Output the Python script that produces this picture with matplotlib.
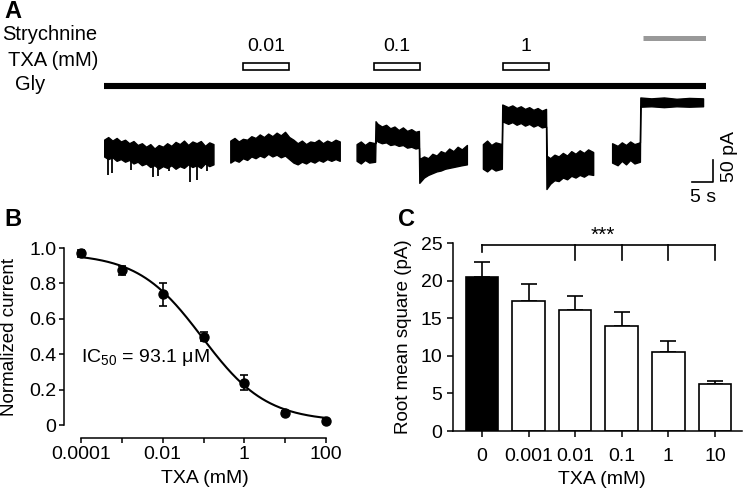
import numpy as np
import matplotlib
matplotlib.use("Agg")
import matplotlib.pyplot as plt
from matplotlib.patches import Rectangle

plt.rcParams['font.family'] = ['Liberation Sans', 'DejaVu Sans']
plt.rcParams['font.size'] = 13
plt.rcParams['axes.linewidth'] = 1.1
plt.rcParams['mathtext.fontset'] = 'custom'
plt.rcParams['mathtext.rm'] = 'Liberation Sans'
plt.rcParams['mathtext.it'] = 'Liberation Sans'

# ---- panel A: drug applications (s) ----
gly_on = [0, 143]
txa_labels = ['0.01', '0.1', '1']
txa_on = [33.0, 64.1, 94.8]
txa_off = [43.9, 75.1, 105.7]
stry_on = [128.0, 143.0]

# ---- panel A: trace envelopes (time s, upper / lower edge pA) ----
tr1_t = [0, 1, 2, 3, 4, 5, 6, 7, 8, 9, 10, 11, 12, 13, 14, 15, 16, 17, 18, 19,
         20, 21, 22, 23, 24, 25, 26]
tr1_top = [30, 36, 28, 34, 26, 30, 22, 27, 18, 22, 14, 20, 10, 18, 14, 22, 16, 25,
           20, 28, 18, 26, 22, 27, 16, 24, 20]
tr1_bot = [-8, -14, -10, -18, -14, -20, -16, -24, -20, -28, -24, -32, -28, -36, -30,
           -34, -28, -36, -30, -34, -26, -32, -28, -34, -24, -30, -26]
spike_t = [1.0, 1.9, 6.5, 11.7, 12.9, 15.5, 20.4, 22.1, 24.5]
spike_y = [-50, -45, -38, -55, -52, -40, -66, -62, -40]

tr2_t = [30, 31, 32, 33, 34, 35, 36, 37, 38, 39, 40, 41, 42, 43, 44, 45, 46, 47,
         48, 49, 50, 51, 52, 53, 54, 55, 56]
tr2_top = [28, 34, 26, 32, 30, 38, 34, 42, 36, 44, 38, 46, 40, 48, 36, 30, 22, 28,
           20, 26, 24, 30, 22, 28, 24, 30, 26]
tr2_bot = [-22, -16, -20, -12, -16, -8, -12, -6, -10, -2, -8, -4, -10, -6, -14, -22,
           -26, -20, -24, -18, -22, -16, -20, -14, -18, -14, -18]

tr3_t = [60, 61, 62, 63, 64.4, 64.5, 65, 66, 67, 68, 69, 70, 71, 72, 73, 74, 74.8,
         74.9, 76, 77, 78, 79, 80, 81, 82, 83, 84, 85, 86.2]
tr3_top = [20, 26, 18, 25, 22, 72, 66, 60, 64, 56, 60, 52, 58, 50, 54, 48, 50, -14,
           -8, -12, -2, -6, 4, 0, 10, 4, 14, 8, 18]
tr3_bot = [-18, -24, -16, -22, -20, 32, 26, 22, 24, 18, 20, 16, 18, 12, 14, 10, 12,
           -68, -56, -50, -46, -42, -40, -36, -34, -32, -30, -28, -26]

tr4_t = [90, 91, 92, 93, 94.5, 94.6, 96, 97, 98, 99, 100, 101, 102, 103, 104, 105,
         105.1, 106, 107, 108, 109, 110, 111, 112, 113, 114, 115, 116.2]
tr4_top = [20, 28, 18, 24, 20, 110, 104, 108, 102, 106, 100, 104, 98, 102, 96, 100,
           -6, -12, -4, -8, 0, -6, 4, -2, 6, 0, 8, 2]
tr4_bot = [-36, -42, -34, -40, -36, 72, 66, 70, 64, 68, 62, 66, 60, 64, 58, 60,
           -82, -70, -62, -64, -56, -60, -52, -56, -50, -54, -48, -50]

tr5_t = [120.7, 122, 123, 124, 125, 126, 127.3, 127.4, 130, 133, 136, 139, 142.3]
tr5_top = [22, 16, 24, 18, 26, 20, 24, 126, 124, 126, 123, 125, 124]
tr5_bot = [-22, -28, -18, -26, -16, -24, -20, 105, 106, 104, 106, 105, 106]

# ---- panel B: dose response ----
txa_b = [0.0001, 0.001, 0.01, 0.1, 1, 10, 100]
norm_cur = [0.97, 0.875, 0.74, 0.50, 0.24, 0.07, 0.025]
norm_err = [0.02, 0.025, 0.065, 0.025, 0.04, 0.01, 0.01]
ic50 = 0.0931   # mM
hill = 0.55
fit_top, fit_bot = 0.97, 0.02

# ---- panel C: RMS ----
c_labels = ['0', '0.001', '0.01', '0.1', '1', '10']
rms = [20.5, 17.3, 16.1, 14.0, 10.5, 6.2]
rms_err = [2.0, 2.2, 1.9, 1.8, 1.5, 0.5]

W, H = 745, 488
fig = plt.figure(figsize=(W / 100, H / 100), dpi=100)

def fpos(l, t, r, b):
    return [l / W, 1 - b / H, (r - l) / W, (b - t) / H]

# ================= A =================
axd = fig.add_axes(fpos(104, 25, 706, 95))
axd.set_xlim(0, 143)
axd.set_ylim(0, 1)
axd.axis('off')
axd.plot(gly_on, [0.129, 0.129], color='black', lw=4.4, solid_capstyle='butt')
axd.plot(stry_on, [0.814, 0.814], color='#999999', lw=3.6, solid_capstyle='butt')
for lab, a, b in zip(txa_labels, txa_on, txa_off):
    axd.add_patch(Rectangle((a, 0.357), b - a, 0.1, facecolor='white',
                            edgecolor='black', lw=1.2))
    axd.text((a + b) / 2, 0.686, lab, ha='center', va='center', fontsize=14)

fig.text(2 / W, 1 - 35 / H, 'Strychnine', ha='left', va='center', fontsize=14.5)
fig.text(8 / W, 1 - 60 / H, 'TXA (mM)', ha='left', va='center', fontsize=14.5)
fig.text(15 / W, 1 - 84 / H, 'Gly', ha='left', va='center', fontsize=14.5)
fig.text(4 / W, 1 - 12 / H, 'A', ha='left', va='center', fontsize=17, fontweight='bold')

axt = fig.add_axes(fpos(104, 90, 706, 200))
axt.set_xlim(0, 143)
axt.set_ylim(-107, 143)
axt.axis('off')
for t, top, bot in [(tr1_t, tr1_top, tr1_bot), (tr2_t, tr2_top, tr2_bot),
                    (tr3_t, tr3_top, tr3_bot), (tr4_t, tr4_top, tr4_bot),
                    (tr5_t, tr5_top, tr5_bot)]:
    axt.fill_between(t, bot, top, facecolor='black', edgecolor='black', lw=1.0)
axt.vlines(spike_t, -5, spike_y, color='black', lw=1.3)

# scale bar 5 s / 50 pA
axt.plot([139.7, 144.7, 144.7], [-66, -66, -16], color='black', lw=1.2, clip_on=False)
axt.text(148.6, -9, '50 pA', rotation=90, ha='center', va='center', fontsize=14, clip_on=False)
axt.text(142.2, -101, '5 s', ha='center', va='center', fontsize=14, clip_on=False)

# ================= B =================
axb = fig.add_axes(fpos(81, 248, 326, 425))
xs = np.logspace(-4, 2, 300)
axb.plot(xs, fit_bot + (fit_top - fit_bot) / (1 + (xs / ic50) ** hill),
         color='black', lw=1.5, clip_on=False)
axb.errorbar(txa_b, norm_cur, yerr=norm_err, fmt='o', color='black', ms=6.5,
             capsize=2.8, elinewidth=1.2, capthick=1.2, clip_on=False)
axb.set_xscale('log')
axb.set_xlim(1e-4, 100)
axb.set_ylim(0, 1.0)
axb.set_xticks([1e-4, 1e-3, 1e-2, 1e-1, 1, 10, 100])
axb.set_xticklabels(['0.0001', '', '0.01', '', '1', '', '100'])
axb.xaxis.set_minor_locator(matplotlib.ticker.NullLocator())
axb.set_yticks([0, 0.2, 0.4, 0.6, 0.8, 1.0])
axb.set_yticklabels(['0', '0.2', '0.4', '0.6', '0.8', '1.0'])
for s in ['top', 'right']:
    axb.spines[s].set_visible(False)
axb.spines['left'].set_position(('outward', 12))
axb.spines['bottom'].set_position(('outward', 9))
axb.tick_params(direction='out', length=3.6, width=1.1, labelsize=14)
axb.tick_params(axis='y', pad=2)
axb.tick_params(axis='x', pad=2.5)
axb.set_ylabel('Normalized current', fontsize=13.5)
axb.yaxis.set_label_coords(-0.257, 0.5)
axb.set_xlabel('TXA (mM)', fontsize=14)
axb.xaxis.set_label_coords(0.506, -0.255)
axb.text(1e-4, 0.38, 'IC$_{50}$ = 93.1 \u03bcM', ha='left', va='center', fontsize=14)
fig.text(4 / W, 1 - 220 / H, 'B', ha='left', va='center', fontsize=17, fontweight='bold')

# ================= C =================
axc = fig.add_axes(fpos(453, 243, 742, 431))
pos = np.arange(len(rms))
colors = ['black'] + ['white'] * (len(rms) - 1)
axc.bar(pos, rms, width=0.7, color=colors, edgecolor='black', lw=1.2, zorder=2)
axc.errorbar(pos, rms, yerr=[np.zeros(len(rms)), rms_err], fmt='none', ecolor='black',
             capsize=5.5, elinewidth=1.2, capthick=1.2, zorder=1)
axc.set_xlim(-0.62, 5.58)
axc.set_ylim(0, 25)
axc.set_xticks(pos)
axc.set_xticklabels(c_labels)
axc.set_yticks([0, 5, 10, 15, 20, 25])
for s in ['top', 'right']:
    axc.spines[s].set_visible(False)
axc.tick_params(direction='out', length=4.2, width=1.1, labelsize=14)
axc.tick_params(axis='x', pad=8)
axc.set_ylabel('Root mean square (pA)', fontsize=13.5)
axc.yaxis.set_label_coords(-0.142, 0.5)
axc.set_xlabel('TXA (mM)', fontsize=14)
axc.xaxis.set_label_coords(0.516, -0.215)

# significance bracket
axc.plot([0, 5], [24.7, 24.7], color='black', lw=1.2, clip_on=False)
axc.plot([0, 0], [24.7, 23.8], color='black', lw=1.2, clip_on=False)
for p in pos[2:]:
    axc.plot([p, p], [24.7, 22.7], color='black', lw=1.2, clip_on=False)
axc.text(2.6, 26.0, '***', ha='center', va='center', fontsize=15, clip_on=False)
fig.text(398 / W, 1 - 220 / H, 'C', ha='left', va='center', fontsize=17, fontweight='bold')

fig.savefig('out.png', dpi=100)
